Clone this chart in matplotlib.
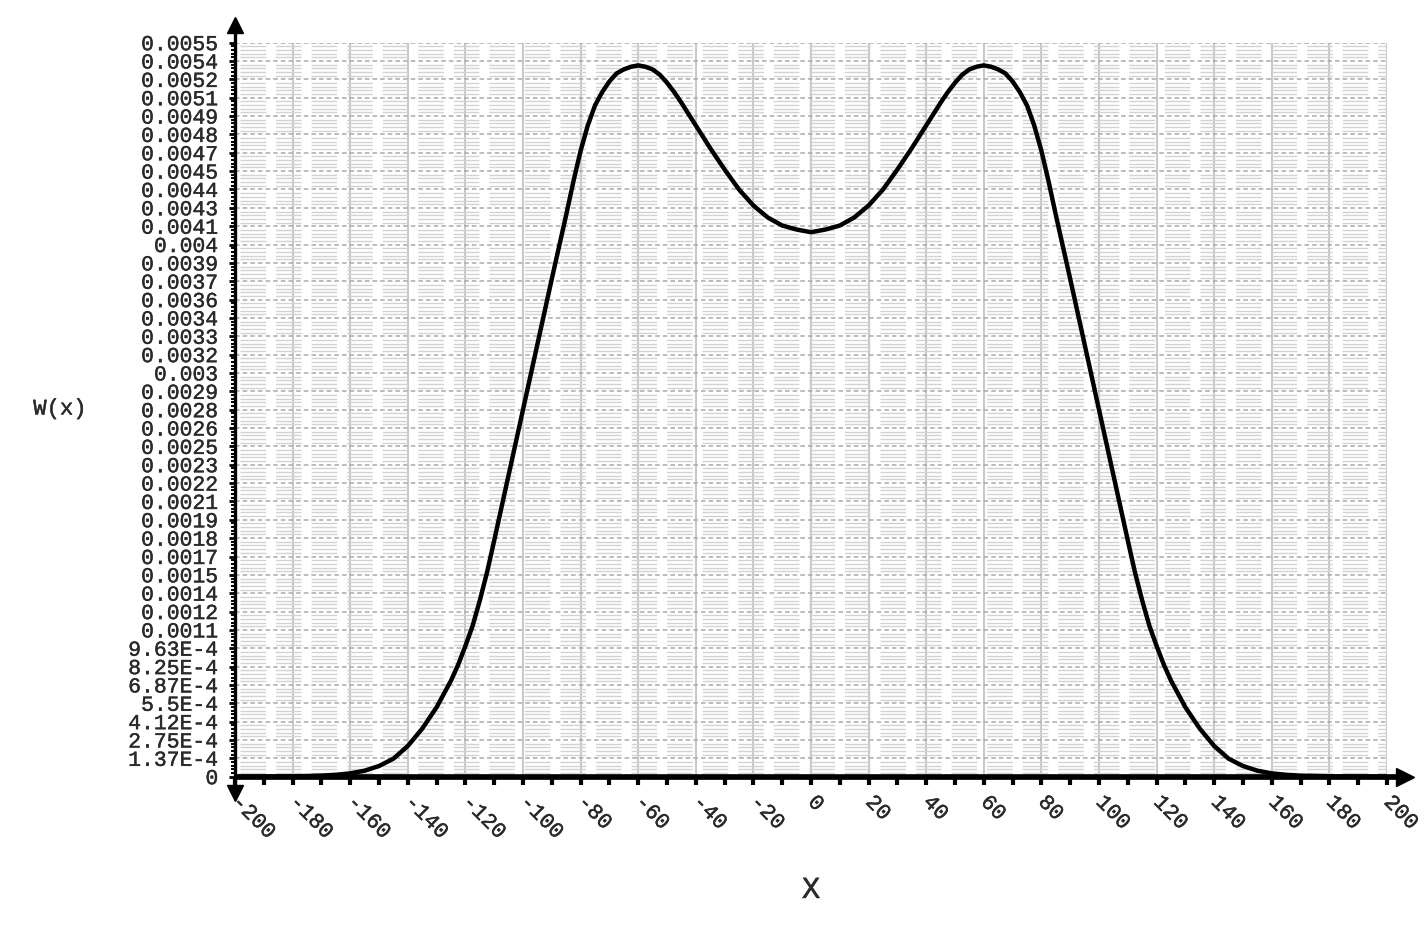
import matplotlib
matplotlib.use("Agg")
import matplotlib.pyplot as plt
import matplotlib.patheffects as pe
from matplotlib.ticker import FixedLocator

x = [-200, -190, -180, -170, -165, -160, -155, -150, -145, -140, -135, -130,
     -125, -122.5, -120, -117.5, -115, -112.5, -110, -105, -100, -95, -90,
     -85, -82.5, -80, -77.5, -75, -72.5, -70, -67.5, -65, -62.5, -60, -57.5,
     -55, -52.5, -50, -47.5, -45, -40, -35, -30, -25, -20, -15, -10, -5,
     0,
     5, 10, 15, 20, 25, 30, 35, 40, 45, 47.5, 50, 52.5, 55, 57.5, 60, 62.5,
     65, 67.5, 70, 72.5, 75, 77.5, 80, 82.5, 85, 90, 95, 100, 105, 110,
     112.5, 115, 117.5, 120, 122.5, 125, 130, 135, 140, 145, 150, 155, 160,
     165, 170, 180, 190, 200]
w = [0.0, 0.000001, 0.000003, 0.000008, 0.000014, 0.000025, 0.000045,
     0.00008, 0.000135, 0.00023, 0.00036, 0.00052, 0.00072, 0.00084, 0.00098,
     0.00113, 0.00132, 0.00153, 0.00177, 0.00226, 0.00275, 0.00324, 0.00373,
     0.00421, 0.00446, 0.00469, 0.00488, 0.00503, 0.00513, 0.00521, 0.00527,
     0.00530, 0.00532, 0.00533, 0.00532, 0.00530, 0.00526, 0.00520, 0.00513,
     0.00505, 0.00488, 0.00471, 0.00455, 0.00440, 0.00428, 0.00419, 0.00413,
     0.00410,
     0.00408,
     0.00410, 0.00413, 0.00419, 0.00428, 0.00440, 0.00455, 0.00471, 0.00488,
     0.00505, 0.00513, 0.00520, 0.00526, 0.00530, 0.00532, 0.00533, 0.00532,
     0.00530, 0.00527, 0.00521, 0.00513, 0.00503, 0.00488, 0.00469, 0.00446,
     0.00421, 0.00373, 0.00324, 0.00275, 0.00226, 0.00177, 0.00153, 0.00132,
     0.00113, 0.00098, 0.00084, 0.00072, 0.00052, 0.00036, 0.00023, 0.000135,
     0.00008, 0.000045, 0.000025, 0.000014, 0.000008, 0.000003, 0.000001, 0.0]

x_ticks = list(range(-200, 201, 20))
x_labels = ["-200", "-180", "-160", "-140", "-120", "-100", "-80", "-60", "-40", "-20",
            "0", "20", "40", "60", "80", "100", "120", "140", "160", "180", "200"]

y_step = 0.0055 / 40
y_labels = ["0", "1.37E-4", "2.75E-4", "4.12E-4", "5.5E-4", "6.87E-4", "8.25E-4", "9.63E-4",
            "0.0011", "0.0012", "0.0014", "0.0015", "0.0017", "0.0018", "0.0019", "0.0021",
            "0.0022", "0.0023", "0.0025", "0.0026", "0.0028", "0.0029", "0.003", "0.0032",
            "0.0033", "0.0034", "0.0036", "0.0037", "0.0039", "0.004", "0.0041", "0.0043",
            "0.0044", "0.0045", "0.0047", "0.0048", "0.0049", "0.0051", "0.0052", "0.0054",
            "0.0055"]

plt.rcParams["font.family"] = ["Liberation Mono", "DejaVu Sans Mono"]
txt_col = "#2a2a2a"
# the reference text is drawn a little heavier than plain Liberation Mono
thick = [pe.withStroke(linewidth=0.3, foreground=txt_col)]

fig = plt.figure(figsize=(14.28, 9.3), dpi=100)
ax = fig.add_axes([235 / 1428, 153.3 / 930, 1152 / 1428, 734 / 930])
ax.set_xlim(-200, 200)
ax.set_ylim(0, 0.0055)

for s in ax.spines.values():
    s.set_visible(False)

# ticks
ax.xaxis.set_major_locator(FixedLocator(x_ticks))
ax.xaxis.set_minor_locator(FixedLocator(list(range(-190, 200, 20))))
ax.set_xticklabels(x_labels, rotation=-45, ha="left", va="center",
                   rotation_mode="anchor", fontsize=15.6, color=txt_col,
                   path_effects=thick)
ax.tick_params(axis="x", which="both", direction="out", length=6, width=3,
               pad=10, color="black")

yt = [i * y_step for i in range(41)]
ax.yaxis.set_major_locator(FixedLocator(yt))
ax.yaxis.set_minor_locator(FixedLocator([i * y_step / 5 for i in range(201)]))
ax.set_yticklabels(y_labels, fontsize=15.4, color=txt_col, path_effects=thick)
ax.tick_params(axis="y", which="major", direction="out", length=4.5, width=2,
               pad=7.5, color="black")
ax.tick_params(axis="y", which="minor", direction="out", length=3.2, width=1.4,
               color="black")

# grid: broken light rows, dashed rows at labels, vertical lines every 20
ax.set_axisbelow(True)
ax.grid(which="minor", axis="y", color="#d2d2d2", linewidth=1.0,
        linestyle=(22, (18.4, 7.2)))
ax.grid(which="major", axis="y", color="#aaaaaa", linestyle=(0, (3, 2)), linewidth=1.1)
ax.grid(which="major", axis="x", color="#c8c8c8", linestyle="-", linewidth=1.5)

# axes with arrows
ax.plot([-200, 203], [0, 0], color="black", lw=4.1, clip_on=False, zorder=6,
        solid_capstyle="butt")
ax.plot([206.2], [0], marker=">", ms=13, color="black", clip_on=False, zorder=6)
ax.plot([-200, -200], [-0.00012, 0.0056], color="black", lw=2.4, clip_on=False,
        zorder=6, solid_capstyle="butt")
ax.plot([-200], [0.005633], marker="^", ms=11, color="black", clip_on=False, zorder=6)
ax.plot([-200], [-0.000122], marker="v", ms=11, color="black", clip_on=False, zorder=6)

# the curve
ax.plot(x, w, color="black", lw=3.2, zorder=5, solid_joinstyle="round")

fig.text(60 / 1428, 1 - 409 / 930, "W(x)", ha="center", va="center",
         fontsize=16, color=txt_col, path_effects=thick)
fig.text(811 / 1428, 1 - 890 / 930, "X", ha="center", va="center",
         fontsize=22, color=txt_col, path_effects=thick)

fig.savefig("out.png", dpi=100)
